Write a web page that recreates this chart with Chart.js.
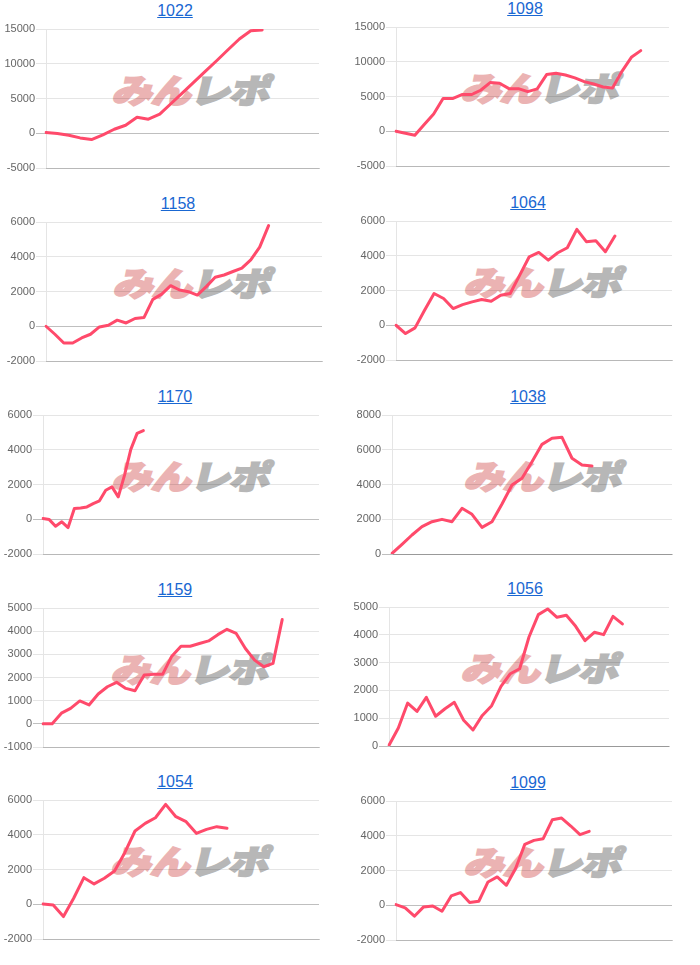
<!DOCTYPE html>
<html>
<head>
<meta charset="utf-8">
<script src="https://cdn.jsdelivr.net/npm/chart.js@4.4.1/dist/chart.umd.min.js"></script>
<style>
  html, body { margin: 0; padding: 0; background: #fff; }
  #root { position: relative; width: 700px; height: 965px; overflow: hidden; }
  .ttl { position: absolute; font-family: "Liberation Sans", Arial, sans-serif; font-size: 16px; line-height: 18px;
         color: #1967d2; text-decoration: underline; white-space: nowrap; transform: translateX(-50%); }
  .wm { position: absolute; font-family: "Noto Sans CJK JP", sans-serif; font-weight: 900; font-size: 33px; line-height: 33px;
        white-space: nowrap; transform: translate(-50%, -50%) skewX(-14deg) scaleX(1.22); letter-spacing: -1px; }
  .wm .a { color: #ebb3b3; -webkit-text-stroke: 2px #ebb3b3; }
  .wm .b { color: #b7b7b7; -webkit-text-stroke: 2px #b7b7b7; }
  .cw { position: absolute; }
</style>
</head>
<body>
<div id="root"></div>
<script>
// ---- data ----
const machineIds = ['1022', '1098', '1158', '1064', '1170', '1038', '1159', '1056', '1054', '1099'];
const labelCounts = [25, 30, 32, 30, 45, 29, 31, 31, 28, 31];
const yMin  = [-5000, -5000, -2000, -2000, -2000, 0, -1000, 0, -2000, -2000];
const yMax  = [15000, 15000, 6000, 6000, 6000, 8000, 5000, 5000, 6000, 6000];
const yStep = [5000, 5000, 2000, 2000, 2000, 2000, 1000, 1000, 2000, 2000];

const values1022 = [100, -50, -290, -670, -910, -240, 580, 1150, 2310, 2020, 2740, 4280, 5820, 7360, 8890, 10430, 12020, 13560, 14760, 14860];
const values1098 = [0, -280, -575, 960, 2490, 4700, 4700, 5270, 5270, 5900, 7000, 6900, 6130, 6130, 5700, 6090, 8150, 8340, 8100, 7670, 7140, 6800, 6370, 6230, 8620, 10640, 11600];
const values1158 = [0, -460, -965, -965, -675, -460, -40, 60, 350, 190, 445, 500, 1545, 1850, 2335, 2085, 1990, 1795, 2280, 2820, 2950, 3150, 3340, 3820, 4555, 5790];
const values1064 = [0, -480, -150, 865, 1830, 1540, 960, 1190, 1345, 1480, 1385, 1730, 1830, 2885, 3940, 4190, 3750, 4170, 4460, 5520, 4810, 4865, 4230, 5135];
const values1170 = [40, -20, -400, -150, -480, 615, 650, 710, 900, 1060, 1670, 1865, 1290, 2540, 4020, 4940, 5100];
const values1038 = [30, 555, 1095, 1575, 1860, 1995, 1860, 2630, 2285, 1535, 1860, 2880, 3970, 4355, 5315, 6310, 6660, 6715, 5510, 5125, 5065];
const values1159 = [0, 0, 460, 670, 990, 815, 1290, 1600, 1790, 1530, 1430, 2105, 2135, 2135, 2920, 3350, 3350, 3465, 3580, 3850, 4080, 3900, 3250, 2750, 2465, 2610, 4500];
const values1056 = [25, 650, 1545, 1245, 1750, 1070, 1340, 1570, 925, 575, 1100, 1450, 2145, 2600, 2780, 3920, 4725, 4930, 4630, 4700, 4305, 3790, 4090, 4005, 4665, 4390];
const values1054 = [20, -40, -710, 345, 1530, 1170, 1495, 1915, 2970, 4215, 4655, 4980, 5750, 5040, 4750, 4080, 4310, 4465, 4370];
const values1099 = [40, -150, -630, -95, -40, -345, 535, 730, 155, 230, 1340, 1630, 1150, 2110, 3505, 3735, 3830, 4925, 5020, 4560, 4060, 4255];

const seriesList = [values1022, values1098, values1158, values1064, values1170, values1038, values1159, values1056, values1054, values1099];

// ---- layout (styles only) ----
// [axisX, rightX, chartTop, titleCenterX, watermarkCenterX]
const panelLayout = [
  [46, 319, 29, 175, 193],
  [396, 669, 27, 525, 542],
  [46, 322, 222, 178, 194],
  [396, 672, 221, 528, 545],
  [43, 319, 415, 175, 193],
  [392, 672, 415, 528, 545],
  [43, 319, 608, 175, 192],
  [389, 669, 607, 525, 542],
  [43, 319, 800, 175, 192],
  [396, 672, 801, 528, 545]
];
const AREA_H = 139, YW = 50, PAD = 8, PADR = 6;

const root = document.getElementById('root');

machineIds.forEach((id, i) => {
  const [ax, rx, top, tcx, wcx] = panelLayout[i];

  const t = document.createElement('a');
  t.className = 'ttl';
  t.href = '#';
  t.textContent = id;
  t.style.left = tcx + 'px';
  t.style.top = (top - 13 - 14.5) + 'px';
  root.appendChild(t);

  const wm = document.createElement('div');
  wm.className = 'wm';
  wm.innerHTML = '<span class="a">みん</span><span class="b">レポ</span>';
  wm.style.left = wcx + 'px';
  wm.style.top = (top + 60) + 'px';
  root.appendChild(wm);

  const cw = document.createElement('div');
  cw.className = 'cw';
  cw.style.left = (ax - YW) + 'px';
  cw.style.top = (top - PAD) + 'px';
  cw.style.width = (rx - ax + YW + PADR) + 'px';
  cw.style.height = (AREA_H + 2 * PAD) + 'px';
  const cv = document.createElement('canvas');
  cw.appendChild(cv);
  root.appendChild(cw);

  const labels = Array.from({ length: labelCounts[i] }, () => '');

  new Chart(cv, {
    type: 'line',
    data: {
      labels: labels,
      datasets: [{
        data: seriesList[i],
        borderColor: '#ff4a6b',
        backgroundColor: '#ff4a6b',
        borderWidth: 3,
        pointRadius: 0,
        pointHoverRadius: 0,
        fill: false,
        tension: 0,
        borderCapStyle: 'round',
        borderJoinStyle: 'round'
      }]
    },
    options: {
      responsive: true,
      maintainAspectRatio: false,
      animation: false,
      events: [],
      layout: { padding: { left: 0, right: PADR, top: PAD, bottom: PAD } },
      plugins: { legend: { display: false }, tooltip: { enabled: false }, title: { display: false } },
      scales: {
        x: {
          type: 'category',
          offset: false,
          grid: { display: false },
          ticks: { display: false },
          border: { display: true, color: 'rgba(0,0,0,0.2)', width: 1 },
          afterFit: s => { s.height = 0; }
        },
        y: {
          min: yMin[i],
          max: yMax[i],
          ticks: {
            stepSize: yStep[i],
            color: '#666',
            padding: 1,
            font: { family: '"Liberation Sans", Arial, sans-serif', size: 11 },
            callback: v => String(v)
          },
          grid: {
            color: c => (c.tick && c.tick.value === 0) ? 'rgba(0,0,0,0.25)' : 'rgba(0,0,0,0.1)',
            tickLength: 10,
            drawTicks: true
          },
          border: { display: true, color: 'rgba(0,0,0,0.1)', width: 1 },
          afterFit: s => { s.width = YW; }
        }
      }
    }
  });
});
</script>
</body>
</html>
